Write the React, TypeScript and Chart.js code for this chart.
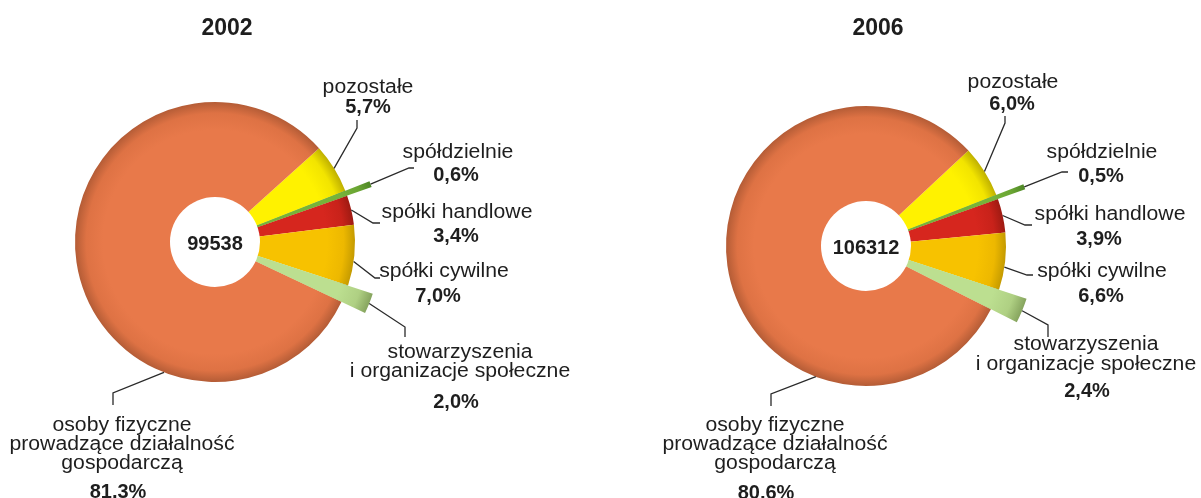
import React, { useEffect, useRef } from 'react';
import { Chart, registerables } from 'chart.js';

Chart.register(...registerables);

// ---------- data ----------
const categories = [
  'pozostałe',
  'spółdzielnie',
  'spółki handlowe',
  'spółki cywilne',
  'stowarzyszenia\ni organizacje społeczne',
  'osoby fizyczne\nprowadzące działalność\ngospodarczą',
];
const years = ['2002', '2006'];
const totals = [99538, 106312];
const shares2002 = [5.7, 0.6, 3.4, 7.0, 2.0, 81.3];
const shares2006 = [6.0, 0.5, 3.9, 6.6, 2.4, 80.6];
const seriesValues = [shares2002, shares2006];
const explodedSlices = [false, true, false, false, true, false];

// ---------- styles ----------
const baseColors = ['#FFF200', '#76B33A', '#D6261E', '#F7C200', '#BCDF90', '#E8794A'];
const midColors = ['#F2E400', '#6AA533', '#C8221A', '#EDB800', '#AFD083', '#DE7244'];
const edgeColors = ['#BFB000', '#4E8726', '#9E1A12', '#C49A00', '#86A45E', '#B45C36'];
const RADIUS = 140;
const EXPLODED_RADIUS = [166, 169];
const HOLE = 45;
const FONT = "'Liberation Sans', Arial, Helvetica, sans-serif";
const TEXT_STRETCH = 1.06;

type LabelLayout = {
  tx: number;
  ys: number[];
  px: number;
  py: number;
  path: number[][];
  frac: number;
};

// canvas placement (page coords)
const canvasX = [0, 600];
const canvasW = [600, 601];
const canvasH = 498;
const centers = [
  [215, 242],
  [866, 246],
];
const rotations = [48, 47];
const titleX = [227, 878];

// label layout in page coordinates
const layouts: LabelLayout[][] = [
  [
    { tx: 368, ys: [93], px: 368, py: 113, path: [[357, 128], [357, 120]], frac: 0.5 },
    { tx: 458, ys: [158], px: 456, py: 181, path: [[409, 168], [414, 168]], frac: 0.5 },
    { tx: 457, ys: [218], px: 456, py: 242, path: [[373, 223], [380, 223]], frac: 0.5 },
    { tx: 444, ys: [277], px: 438, py: 302, path: [[375, 278], [380, 278]], frac: 0.6 },
    { tx: 460, ys: [358, 377], px: 456, py: 408, path: [[405, 327], [405, 337]], frac: 0.5 },
    { tx: 122, ys: [431, 450, 469], px: 118, py: 498, path: [[113, 393], [113, 405]], frac: 0.294 },
  ],
  [
    { tx: 1013, ys: [88], px: 1012, py: 110, path: [[1005, 123], [1005, 116]], frac: 0.5 },
    { tx: 1102, ys: [158], px: 1101, py: 182, path: [[1062, 172], [1068, 172]], frac: 0.5 },
    { tx: 1110, ys: [220], px: 1099, py: 245, path: [[1025, 225], [1032, 225]], frac: 0.5 },
    { tx: 1102, ys: [277], px: 1101, py: 302, path: [[1027, 275], [1033, 275]], frac: 0.6 },
    { tx: 1086, ys: [350, 370], px: 1087, py: 397, path: [[1048, 325], [1048, 337]], frac: 0.5 },
    { tx: 775, ys: [431, 450, 469], px: 766, py: 499, path: [[771, 394], [771, 406]], frac: 0.29 },
  ],
];

const fmtPct = (v: number) => v.toFixed(1).replace('.', ',') + '%';

function stretchedText(ctx: CanvasRenderingContext2D, t: string, x: number, y: number, sx: number) {
  ctx.save();
  ctx.translate(x, y);
  ctx.scale(sx, 1);
  ctx.fillText(t, 0, 0);
  ctx.restore();
}

function makeLabelPlugin(k: number) {
  return {
    id: 'pieLabels' + k,
    afterDatasetsDraw(chart: any) {
      const ctx: CanvasRenderingContext2D = chart.ctx;
      const meta = chart.getDatasetMeta(0);
      const arcs = meta.data as any[];
      if (!arcs.length) return;
      const cx = arcs[0].x;
      const cy = arcs[0].y;
      const ox = canvasX[k];
      const values = seriesValues[k];
      ctx.save();

      // hole
      ctx.beginPath();
      ctx.arc(cx, cy, HOLE, 0, Math.PI * 2);
      ctx.fillStyle = '#ffffff';
      ctx.fill();

      // centre total
      ctx.fillStyle = '#1e1e1e';
      ctx.font = `bold 20px ${FONT}`;
      ctx.textAlign = 'center';
      ctx.textBaseline = 'alphabetic';
      ctx.fillText(String(totals[k]), cx, cy + 7.5);

      // title
      ctx.font = `bold 23px ${FONT}`;
      ctx.fillText(years[k], titleX[k] - ox, 35);

      // leaders and labels
      arcs.forEach((el: any, i: number) => {
        const L = layouts[k][i];
        const a = el.startAngle + L.frac * (el.endAngle - el.startAngle);
        const r = explodedSlices[i] ? el.outerRadius : RADIUS;
        const sx = cx + Math.cos(a) * r;
        const sy = cy + Math.sin(a) * r;
        ctx.beginPath();
        ctx.moveTo(sx, sy);
        L.path.forEach((p) => ctx.lineTo(p[0] - ox, p[1]));
        ctx.strokeStyle = '#2a2a2a';
        ctx.lineWidth = 1.3;
        ctx.stroke();

        ctx.fillStyle = '#1e1e1e';
        ctx.font = `20px ${FONT}`;
        const lines = categories[i].split('\n');
        lines.forEach((t, j) => stretchedText(ctx, t, L.tx - ox, L.ys[j], TEXT_STRETCH));
        ctx.font = `bold 20px ${FONT}`;
        ctx.fillText(fmtPct(values[i]), L.px - ox, L.py);
      });
      ctx.restore();
    },
  };
}

function PieCanvas({ k, overlay }: { k: number; overlay: boolean }) {
  const ref = useRef<HTMLCanvasElement | null>(null);
  useEffect(() => {
    if (!ref.current) return;
    const w = canvasW[k];
    const [pcx, pcy] = centers[k];
    const localCx = pcx - canvasX[k];
    const R = overlay ? EXPLODED_RADIUS[k] : RADIUS;
    const chart = new Chart(ref.current, {
      type: 'pie',
      data: {
        labels: categories,
        datasets: [
          {
            data: seriesValues[k],
            borderWidth: 0,
            backgroundColor: (c: any) => {
              const i = c.dataIndex;
              const chartArea = c.chart.chartArea;
              if (i === undefined || i === null) return baseColors[0];
              if (overlay && !explodedSlices[i]) return 'rgba(0,0,0,0)';
              if (!chartArea) return baseColors[i];
              const x = (chartArea.left + chartArea.right) / 2;
              const y = (chartArea.top + chartArea.bottom) / 2;
              const g = c.chart.ctx.createRadialGradient(x, y, 0, x, y, R);
              g.addColorStop(0, baseColors[i]);
              g.addColorStop(0.8, baseColors[i]);
              g.addColorStop(0.92, midColors[i]);
              g.addColorStop(1, edgeColors[i]);
              return g;
            },
          } as any,
        ],
      },
      options: {
        animation: false,
        responsive: false,
        maintainAspectRatio: false,
        devicePixelRatio: 1,
        events: [],
        radius: R,
        rotation: rotations[k],
        layout: {
          padding: {
            left: 0,
            top: 0,
            right: w - 2 * localCx,
            bottom: canvasH - 2 * pcy,
          },
        },
        plugins: {
          legend: { display: false },
          tooltip: { enabled: false },
          title: { display: false },
        },
      } as any,
      plugins: overlay ? [makeLabelPlugin(k)] : [],
    });
    return () => chart.destroy();
  }, [k, overlay]);
  return (
    <canvas
      ref={ref}
      width={canvasW[k]}
      height={canvasH}
      style={{
        position: 'absolute',
        left: canvasX[k],
        top: 0,
        width: canvasW[k],
        height: canvasH,
      }}
    />
  );
}

export default function App() {
  return (
    <div
      style={{
        position: 'absolute',
        left: 0,
        top: 0,
        width: 1201,
        height: 498,
        background: '#ffffff',
        overflow: 'hidden',
      }}
    >
      <PieCanvas k={0} overlay={false} />
      <PieCanvas k={0} overlay={true} />
      <PieCanvas k={1} overlay={false} />
      <PieCanvas k={1} overlay={true} />
    </div>
  );
}
